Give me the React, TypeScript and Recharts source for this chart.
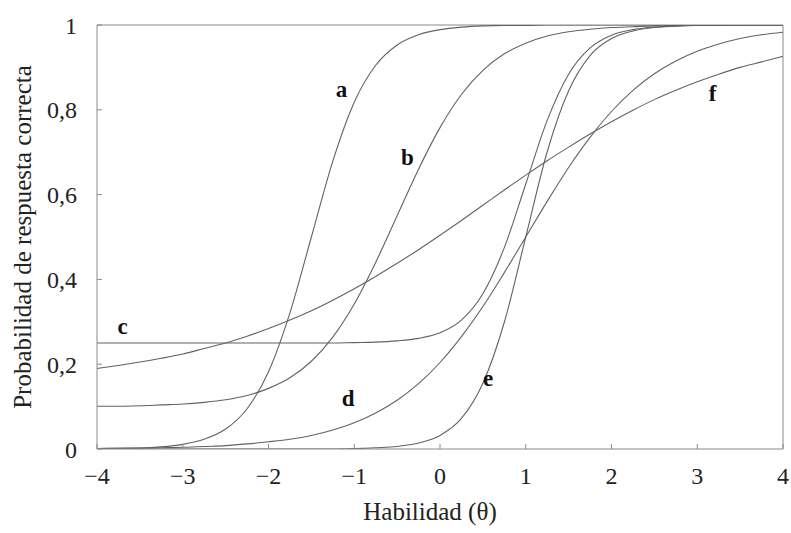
import React from 'react';
import { LineChart, Line, XAxis, YAxis, ReferenceLine, ReferenceDot } from 'recharts';

// Ability values (theta)
const theta = [
  -4, -3.75, -3.5, -3.25, -3, -2.75, -2.5, -2.25, -2, -1.75, -1.5, -1.25, -1, -0.75, -0.5, -0.25,
  0, 0.25, 0.5, 0.75, 1, 1.25, 1.5, 1.75, 2, 2.25, 2.5, 2.75, 3, 3.25, 3.5, 3.75, 4,
];

// Item characteristic curves (probability of correct answer)
const itemA = [0.001, 0.001, 0.002, 0.005, 0.011, 0.023, 0.047, 0.095, 0.182, 0.321, 0.5, 0.679, 0.818, 0.905, 0.953, 0.977, 0.989, 0.995, 0.998, 0.999, 0.999, 1, 1, 1, 1, 1, 1, 1, 1, 1, 1, 1, 1];
const itemB = [0.101, 0.101, 0.102, 0.104, 0.106, 0.11, 0.116, 0.126, 0.143, 0.168, 0.207, 0.264, 0.342, 0.44, 0.55, 0.66, 0.758, 0.836, 0.893, 0.932, 0.957, 0.974, 0.984, 0.99, 0.994, 0.996, 0.998, 0.999, 0.999, 0.999, 1, 1, 1];
const itemC = [0.25, 0.25, 0.25, 0.25, 0.25, 0.25, 0.25, 0.25, 0.25, 0.25, 0.25, 0.25, 0.251, 0.252, 0.255, 0.261, 0.274, 0.304, 0.366, 0.475, 0.625, 0.775, 0.884, 0.946, 0.976, 0.989, 0.995, 0.998, 0.999, 1, 1, 1, 1];
const itemD = [0.001, 0.002, 0.002, 0.003, 0.004, 0.006, 0.008, 0.012, 0.017, 0.023, 0.032, 0.045, 0.062, 0.085, 0.115, 0.154, 0.204, 0.265, 0.336, 0.416, 0.5, 0.584, 0.664, 0.735, 0.796, 0.846, 0.885, 0.915, 0.938, 0.955, 0.968, 0.977, 0.983];
const itemE = [0, 0, 0, 0, 0, 0, 0, 0, 0, 0, 0, 0, 0.001, 0.003, 0.006, 0.014, 0.032, 0.072, 0.155, 0.299, 0.5, 0.701, 0.845, 0.928, 0.968, 0.986, 0.994, 0.997, 0.999, 1, 1, 1, 1];
const itemF = [0.19, 0.197, 0.205, 0.214, 0.224, 0.237, 0.25, 0.266, 0.284, 0.304, 0.326, 0.351, 0.378, 0.407, 0.438, 0.47, 0.504, 0.539, 0.575, 0.611, 0.646, 0.68, 0.712, 0.743, 0.772, 0.799, 0.824, 0.846, 0.866, 0.884, 0.9, 0.913, 0.926];

// Axis ticks
const xTicks = [-4, -3, -2, -1, 0, 1, 2, 3, 4];
const yTicks = [0, 0.2, 0.4, 0.6, 0.8, 1];

// Curve labels
const curveNames = ['a', 'b', 'c', 'd', 'e', 'f'];
const curveLabelX = [-1.15, -0.38, -3.7, -1.07, 0.56, 3.18];
const curveLabelY = [0.85, 0.69, 0.29, 0.12, 0.167, 0.84];

const xTitle = 'Habilidad (θ)';
const yTitle = 'Probabilidad de respuesta correcta';

const series = [
  { key: 'a', values: itemA },
  { key: 'b', values: itemB },
  { key: 'c', values: itemC },
  { key: 'd', values: itemD },
  { key: 'e', values: itemE },
  { key: 'f', values: itemF },
];

const data = theta.map((t, i) => {
  const row: Record<string, number> = { theta: t };
  series.forEach((s) => {
    row[s.key] = s.values[i];
  });
  return row;
});

const FONT = '"Liberation Serif", "Times New Roman", serif';
const AXIS = '#8a8a8a';
const CURVE = '#626262';
const TEXT = '#222';

const fmtX = (v: number) => (v < 0 ? '\u2212' + Math.abs(v) : String(v));
const fmtY = (v: number) => String(v).replace('.', ',');

const YTitle = (props: any) => {
  const vb = props.viewBox || {};
  const cx = 22;
  const cy = (vb.y ?? 25) + (vb.height ?? 424) / 2;
  return (
    <text
      x={cx}
      y={cy}
      transform={`rotate(-90, ${cx}, ${cy})`}
      textAnchor="middle"
      dominantBaseline="central"
      fontFamily={FONT}
      fontSize={25}
      fill={TEXT}
    >
      {yTitle}
    </text>
  );
};

const XTitle = () => {
  return (
    <text
      x={430}
      y={511}
      textAnchor="middle"
      dominantBaseline="central"
      fontFamily={FONT}
      fontSize={25}
      fill={TEXT}
    >
      {xTitle}
    </text>
  );
};

export default function App() {
  return (
    <div style={{ position: 'absolute', left: 0, top: 0, width: 791, height: 533, background: '#fff' }}>
      <LineChart
        width={791}
        height={533}
        data={data}
        margin={{ top: 25, right: 8, left: 0, bottom: 0 }}
      >
        <XAxis
          dataKey="theta"
          type="number"
          domain={[-4, 4]}
          ticks={xTicks}
          tickFormatter={fmtX}
          height={84}
          stroke={AXIS}
          tickSize={-5}
          tickMargin={23}
          tick={{ fontFamily: FONT, fontSize: 24, fill: TEXT }}
          label={<XTitle />}
          allowDataOverflow
        />
        <YAxis
          type="number"
          domain={[0, 1]}
          ticks={yTicks}
          tickFormatter={fmtY}
          width={97}
          stroke={AXIS}
          tickSize={-5}
          tickMargin={25}
          tick={{ fontFamily: FONT, fontSize: 24, fill: TEXT }}
          label={<YTitle />}
          allowDataOverflow
        />
        <ReferenceLine y={1} stroke={AXIS} strokeWidth={1} />
        <ReferenceLine x={4} stroke={AXIS} strokeWidth={1} />
        {series.map((s) => (
          <Line
            key={s.key}
            dataKey={s.key}
            type="monotone"
            stroke={CURVE}
            strokeWidth={1.1}
            dot={false}
            activeDot={false}
            isAnimationActive={false}
          />
        ))}
        {curveNames.map((n, i) => (
          <ReferenceDot
            key={n}
            x={curveLabelX[i]}
            y={curveLabelY[i]}
            r={1}
            fill="none"
            stroke="none"
            label={{
              value: n,
              position: 'center',
              fontFamily: FONT,
              fontSize: 23,
              fontWeight: 'bold',
              fill: '#111',
            }}
          />
        ))}
      </LineChart>
    </div>
  );
}
